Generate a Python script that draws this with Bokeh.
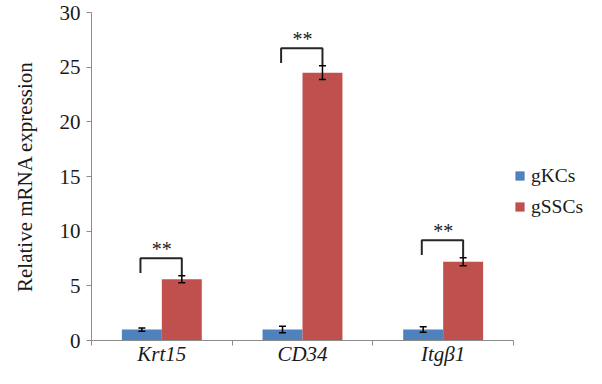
from bokeh.plotting import figure
from bokeh.models import (ColumnDataSource, Range1d, FixedTicker, Whisker, TeeHead,
                          Legend, LegendItem)
from bokeh.core.properties import value
from bokeh.embed import file_html
from bokeh.resources import INLINE

# ---- data ----
genes = ["Krt15", "CD34", "Itgβ1"]
series = ["gKCs", "gSSCs"]
gkcs = [1.0, 1.0, 1.0]
gkcs_err = [0.15, 0.30, 0.25]
gsscs = [5.6, 24.5, 7.2]
gsscs_err = [0.32, 0.62, 0.37]
signif = ["**", "**", "**"]
y_ticks = [0, 5, 10, 15, 20, 25, 30]

# ---- style ----
FONT = "Liberation Serif"
BLUE = "#4F81BD"
RED = "#C0504D"
TEXT = "#1a1a1a"
AXIS = "#8c8c8c"
BRACKET = "#262626"

n = len(genes)
centers = [i + 0.5 for i in range(n)]
half = 0.142
bw = 0.284

p = figure(width=586, height=368, output_backend="svg", toolbar_location=None,
           x_range=Range1d(0, 3.519), y_range=Range1d(0, 30),
           min_border_left=91, min_border_right=0, min_border_top=12,
           min_border_bottom=27)
p.outline_line_color = None
p.xgrid.visible = False
p.ygrid.visible = False

blue_src = ColumnDataSource(dict(
    x=[c - half for c in centers], top=gkcs,
    upper=[v + e for v, e in zip(gkcs, gkcs_err)],
    lower=[v - e for v, e in zip(gkcs, gkcs_err)]))
red_src = ColumnDataSource(dict(
    x=[c + half for c in centers], top=gsscs,
    upper=[v + e for v, e in zip(gsscs, gsscs_err)],
    lower=[v - e for v, e in zip(gsscs, gsscs_err)]))

p.vbar(x="x", top="top", width=bw, source=blue_src, fill_color=BLUE, line_color=None)
p.vbar(x="x", top="top", width=bw, source=red_src, fill_color=RED, line_color=None)

for src in (blue_src, red_src):
    w = Whisker(base="x", upper="upper", lower="lower", source=src,
                level="overlay", line_color="black", line_width=1.5,
                upper_head=TeeHead(size=7, line_width=1.5, line_color="black"),
                lower_head=TeeHead(size=7, line_width=1.5, line_color="black"))
    p.add_layout(w)

# significance brackets
xs, ys, sx, sy = [], [], [], []
for c, v, e in zip(centers, gsscs, gsscs_err):
    top = v + e + 1.6
    xl = c - half - 0.01
    xr = c + half
    xs.append([xl, xl, xr, xr])
    ys.append([top - 1.35, top, top, v + e])
    sx.append(c)
    sy.append(top + 0.85)
p.multi_line(xs=xs, ys=ys, line_color=BRACKET, line_width=2)
p.text(x=sx, y=sy, text=signif, text_font=value(FONT), text_font_size="20px",
       text_color=TEXT, text_align="center", text_baseline="alphabetic")

# axes
p.yaxis.ticker = FixedTicker(ticks=y_ticks)
p.yaxis.axis_label = "Relative mRNA expression"
p.yaxis.axis_label_text_font = FONT
p.yaxis.axis_label_text_font_size = "21px"
p.yaxis.axis_label_text_font_style = "normal"
p.yaxis.axis_label_text_color = TEXT
p.yaxis.axis_label_standoff = 20
p.yaxis.major_label_text_font = FONT
p.yaxis.major_label_text_font_size = "21px"
p.yaxis.major_label_text_color = TEXT
p.yaxis.major_label_standoff = 6
p.yaxis.axis_line_color = AXIS
p.yaxis.major_tick_line_color = AXIS
p.yaxis.major_tick_in = 0
p.yaxis.major_tick_out = 5
p.yaxis.minor_tick_line_color = None

p.xaxis.axis_label = None
p.xaxis.ticker = FixedTicker(ticks=centers, minor_ticks=list(range(n + 1)))
p.xaxis.major_label_overrides = {c: g for c, g in zip(centers, genes)}
p.xaxis.bounds = (0, n)
p.xaxis.major_label_text_font = FONT
p.xaxis.major_label_text_font_size = "21px"
p.xaxis.major_label_text_font_style = "italic"
p.xaxis.major_label_text_color = TEXT
p.xaxis.major_label_standoff = -4
p.xaxis.major_tick_line_color = None
p.xaxis.major_tick_in = 0
p.xaxis.major_tick_out = 0
p.xaxis.minor_tick_line_color = AXIS
p.xaxis.minor_tick_in = 0
p.xaxis.minor_tick_out = 5
p.xaxis.axis_line_color = AXIS

# legend (markers of size 0 on the plot; only their legend glyphs show)
r_blue = p.scatter(x="x", y="top", source=blue_src, size=0, marker="square",
                   fill_color=BLUE, line_color=None)
r_red = p.scatter(x="x", y="top", source=red_src, size=0, marker="square",
                  fill_color=RED, line_color=None)
legend = Legend(items=[LegendItem(label=series[0], renderers=[r_blue]),
                       LegendItem(label=series[1], renderers=[r_red])],
                location=(417, 122), glyph_width=23, glyph_height=23,
                label_standoff=0, spacing=8, padding=0, margin=0,
                border_line_color=None, background_fill_alpha=0,
                label_text_font=FONT, label_text_font_size="19.5px",
                label_text_color=TEXT)
p.add_layout(legend)

open("out.html", "w").write(file_html(p, INLINE))
